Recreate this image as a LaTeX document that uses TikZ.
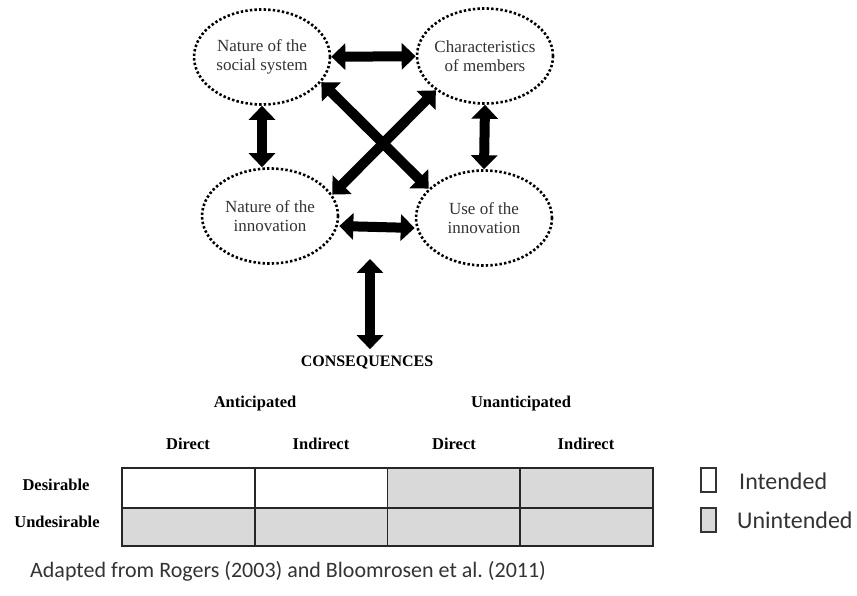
\documentclass[tikz,border=0pt]{standalone}
\usepackage{fontspec}
\setmainfont{Liberation Serif}
\newfontfamily\calibri{Carlito}
\usetikzlibrary{shapes.geometric,arrows.meta,positioning}
\definecolor{cellgray}{HTML}{D9D9D9}

\begin{document}
\begin{tikzpicture}[x=1pt, y=-1pt,
    factor/.style={ellipse, draw, line width=2.6pt, dash pattern=on 2.4pt off 2.2pt,
        minimum width=136pt, minimum height=95pt, inner sep=-5pt,
        align=center, text=black!80, font=\fontsize{17}{19}\selectfont},
    dbl/.style={line width=10pt,
        {Triangle[width=26pt,length=14pt]}-{Triangle[width=26pt,length=14pt]}},
    head/.style={font=\fontsize{16.5}{19}\bfseries\selectfont, inner sep=0pt},
    cell/.style={draw, line width=1.4pt, draw=black!85, minimum width=133pt,
        inner sep=0pt},
    legbox/.style={draw, line width=1.2pt, draw=black!80, minimum width=15pt,
        minimum height=24pt, inner sep=0pt},
    note/.style={font=\calibri\fontsize{24}{26}\selectfont, text=black!80,
        anchor=west, inner sep=0pt}]

    \useasboundingbox (0,0) rectangle (857,596);

    % the four factors
    \node[factor] (nsoc) at (262,57) {Nature of the\\social system};
    \node[factor] (char) at (485,56) {Characteristics\\of members};
    \node[factor] (ninn) at (270,216) {Nature of the\\innovation};
    \node[factor] (use)  at (484,218) {Use of the\\innovation};

    \draw[dbl] (nsoc) -- (char);
    \draw[dbl] ([yshift=-10pt]ninn.east) -- ([yshift=-10pt]use.west);
    \draw[dbl] (nsoc.south) -- (nsoc.south |- ninn.north);
    \draw[dbl] (char.south) -- (use.north);
    \draw[dbl] (nsoc.-23) -- (use.152);
    \draw[dbl] (char.215) -- (ninn.19);

    % consequences
    \node[head, font=\fontsize{16}{19}\bfseries\selectfont] (cons) at (367,362) {CONSEQUENCES};
    \coordinate (csrc) at (370,259);
    \draw[dbl, shorten >=6pt] (csrc) -- (csrc |- cons.north);

    % table
    \foreach \i/\x/\f in {1/188.5/white, 2/321.5/white, 3/454/cellgray, 4/586.5/cellgray} {
        \node[cell, fill=\f, minimum height=40pt] (d\i) at (\x,488) {};
        \node[cell, fill=cellgray, minimum height=38pt] (u\i) at (\x,527) {};
    }

    \node[head] (antic) at (255,404) {Anticipated};
    \node[head] (unant) at (521,404) {Unanticipated};
    \node[head] (dir1) at (188,444) {Direct};
    \node[head] (ind1) at (321,444) {Indirect};
    \node[head] (dir2) at (454,444) {Direct};
    \node[head] (ind2) at (586,444) {Indirect};
    \node[head] (desir) at (56,485) {Desirable};
    \node[head] (undes) at (57,522) {Undesirable};

    % legend
    \node[legbox, fill=white] (lint) at (708.5,480) {};
    \node[legbox, fill=cellgray] (lunint) at (708.5,520) {};
    \node[note] (tint) at (739,481) {Intended};
    \node[note] (tunint) at (737,520) {Unintended};

    \node[note, font=\calibri\fontsize{22}{24}\selectfont] (src) at (30,571)
        {Adapted from Rogers (2003) and Bloomrosen et al.\ (2011)};

\end{tikzpicture}
\end{document}
